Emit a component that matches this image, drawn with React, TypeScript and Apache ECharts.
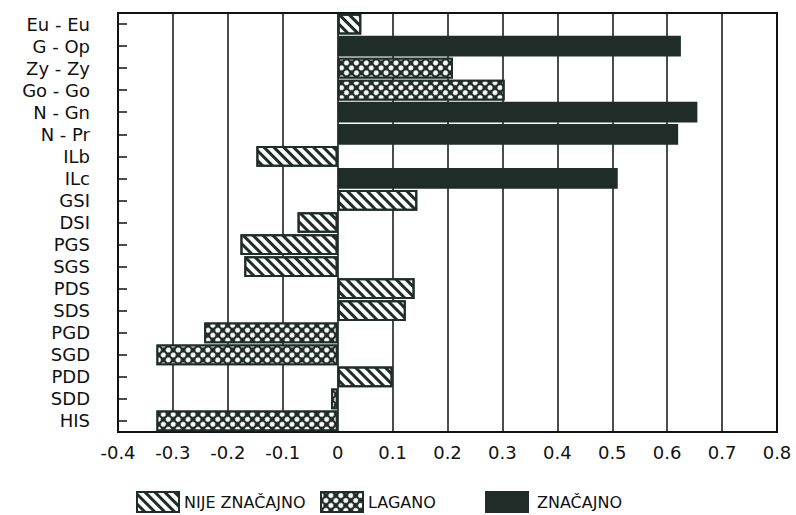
import React, { useEffect, useRef } from "react";
import * as echarts from "echarts";

const categories = [
  "Eu - Eu", "G - Op", "Zy - Zy", "Go - Go", "N - Gn", "N - Pr", "ILb", "ILc",
  "GSI", "DSI", "PGS", "SGS", "PDS", "SDS", "PGD", "SGD", "PDD", "SDD", "HIS",
];
const values = [
  0.043, 0.625, 0.21, 0.304, 0.655, 0.62, -0.148, 0.51,
  0.145, -0.073, -0.177, -0.17, 0.14, 0.124, -0.243, -0.33, 0.1, -0.012, -0.33,
];
// 0 = nije značajno, 1 = lagano, 2 = značajno
const levels = [0, 2, 1, 1, 2, 2, 0, 2, 0, 0, 0, 0, 0, 0, 1, 1, 0, 1, 1];
const seriesNames = ["NIJE ZNAČAJNO", "LAGANO", "ZNAČAJNO"];
const xTicks = { min: -0.4, max: 0.8, step: 0.1 };

const DARK = "#1f2c27";
const FONT = "'DejaVu Sans', sans-serif";
const legendLefts = [136, 320, 485];

export default function App() {
  const ref = useRef<HTMLDivElement>(null);
  useEffect(() => {
    if (!ref.current) return;
    const chart = echarts.init(ref.current, null, { renderer: "svg" });
    const decals: any[] = [
      {
        symbol: "rect",
        symbolSize: 1,
        color: DARK,
        dashArrayX: [1, 0],
        dashArrayY: [2.5, 3.5],
        rotation: Math.PI / 4,
      },
      {
        symbol: "circle",
        symbolSize: 1,
        color: "#ffffff",
        dashArrayX: [5, 2],
        dashArrayY: [5, 2],
        rotation: Math.PI / 4,
      },
      null,
    ];
    const series = seriesNames.map((name, si) => ({
      name,
      type: "bar",
      barGap: "-100%",
      barCategoryGap: "6%",
      data: values.map((v, i) => (levels[i] === si ? v : "-")),
      itemStyle: {
        color: si === 0 ? "#ffffff" : DARK,
        borderColor: DARK,
        borderWidth: 2,
        ...(decals[si] ? { decal: decals[si] } : {}),
      },
    }));
    chart.setOption({
      animation: false,
      backgroundColor: "#ffffff",
      textStyle: { fontFamily: FONT },
      grid: {
        left: 118,
        right: 19,
        top: 13,
        bottom: 83,
        show: true,
        borderColor: "#111",
        borderWidth: 2,
      },
      legend: seriesNames.map((name, i) => ({
        top: 491,
        left: legendLefts[i],
        padding: 0,
        icon: "rect",
        itemWidth: 42,
        itemHeight: 20,
        itemGap: 4,
        selectedMode: false,
        textStyle: {
          fontSize: 16,
          color: "#111",
          fontFamily: FONT,
          padding: [0, 0, 0, i === 2 ? 4 : 0],
        },
        data: [name],
      })),
      xAxis: {
        type: "value",
        min: xTicks.min,
        max: xTicks.max,
        interval: xTicks.step,
        axisLine: { show: true, lineStyle: { color: "#111", width: 2 } },
        axisTick: { show: false },
        splitLine: { show: true, lineStyle: { color: "#111", width: 1.5 } },
        axisLabel: {
          fontSize: 18,
          color: "#111",
          margin: 11,
          formatter: (v: number) => {
            const r = Math.round(v * 10) / 10;
            return r === 0 ? "0" : r.toFixed(1);
          },
        },
      },
      yAxis: {
        type: "category",
        inverse: true,
        data: categories,
        axisLine: { show: true, onZero: false, lineStyle: { color: "#111", width: 2 } },
        axisTick: {
          show: true,
          inside: true,
          alignWithLabel: true,
          interval: 0,
          length: 9,
          lineStyle: { color: "#111", width: 1.5 },
        },
        axisLabel: { fontSize: 18, color: "#111", margin: 28, interval: 0 },
      },
      series,
    });
    return () => chart.dispose();
  }, []);
  return (
    <div
      ref={ref}
      style={{ position: "fixed", left: 0, top: 0, width: 796, height: 515 }}
    />
  );
}
